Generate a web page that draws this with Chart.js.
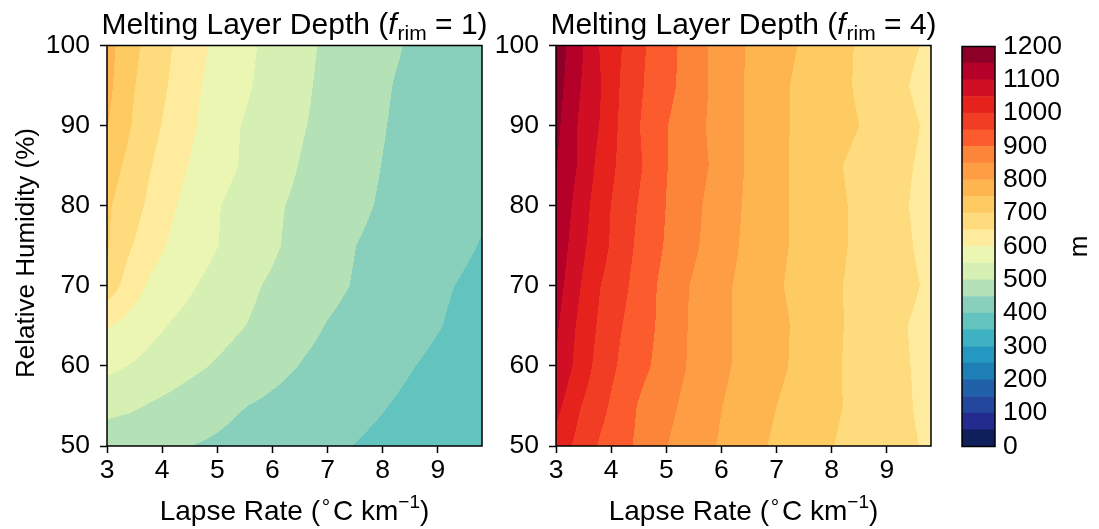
<!DOCTYPE html>
<html><head><meta charset="utf-8">
<script src="https://cdn.jsdelivr.net/npm/chart.js@4.4.1/dist/chart.umd.min.js"></script>
<style>
html,body{margin:0;padding:0;background:#fff;}
#wrap{position:relative;width:1099px;height:529px;overflow:hidden;}
canvas{position:absolute;left:0;top:0;}
</style></head><body>
<div id="wrap">
<canvas id="c1" width="1099" height="529"></canvas>
<canvas id="c2" width="1099" height="529"></canvas>
<canvas id="cb" width="1099" height="529"></canvas>
</div>
<script>
// ---------------- data ----------------
const lapseRates = [3.0,3.4,3.8,4.2,4.6,5.0,5.4,5.8,6.2,6.6,7.0,7.4,7.8,8.2,8.6,9.0,9.4,9.8];
const humidities = [50,55,60,65,70,75,80,85,90,95,100];
const xTickLabels = [3,4,5,6,7,8,9];
const yTickLabels = [50,60,70,80,90,100];
const levels = [0,50,100,150,200,250,300,350,400,450,500,550,600,650,700,750,800,850,900,950,1000,1050,1100,1150,1200];
const cbarTicks = [0,100,200,300,400,500,600,700,800,900,1000,1100,1200];
const levelColors = ['#0e1f5c','#232c8e','#23479c','#2161a9','#1e7fb6','#2598c1','#3eb2c3','#63c3bf',
  '#88d0bb','#b4e1b6','#d6efb3','#eaf6b2','#ffeb9e','#fedc7e','#fecb63','#feb54f',
  '#fd9e44','#fd853a','#fc5b2e','#f03d24','#e5221c','#d10f24','#b5002a','#8f0028'];

// Melting layer depth (m), f_rim = 1, one row per relative humidity
const rim1_rh50  = [470,465,462,456,449,443,436,429,422,415,408,401,394,388,382,376,370,364];
const rim1_rh55  = [515,508,496,486,475,464,453,445,437,429,422,414,406,398,390,383,376,369];
const rim1_rh60  = [562,549,535,521,508,495,482,470,458,446,437,428,419,409,400,392,384,376];
const rim1_rh65  = [603,584,563,545,531,518,504,490,475,461,448,438,429,420,411,402,393,385];
const rim1_rh70  = [680,628,591,571,551,534,517,500,487,475,462,450,439,428,417,406,398,390];
const rim1_rh75  = [705,656,619,591,571,551,533,515,498,483,468,453,443,434,425,416,407,398];
const rim1_rh80  = [707,675,638,604,578,553,535,518,501,488,476,463,451,440,430,421,413,405];
const rim1_rh85  = [724,688,651,619,591,569,549,530,511,494,481,468,455,443,433,424,416,408];
const rim1_rh90  = [752,704,665,632,602,576,551,534,517,501,487,473,459,446,436,426,417,408];
const rim1_rh95  = [765,710,675,642,607,583,562,542,523,505,490,477,464,449,438,428,418,408];
const rim1_rh100 = [770,719,682,649,616,589,567,546,527,508,493,480,468,455,443,432,422,412];

// Melting layer depth (m), f_rim = 4
const rim4_rh50  = [1030,987,944,914,884,851,828,806,783,761,742,725,709,694,681,669,656,643];
const rim4_rh55  = [1066,1006,965,923,888,863,837,812,790,770,750,733,717,700,684,668,653,636];
const rim4_rh60  = [1097,1034,981,940,909,878,847,823,799,780,760,741,725,699,683,667,651,637];
const rim4_rh65  = [1108,1043,991,950,917,883,849,824,799,780,765,740,725,701,683,667,649,637];
const rim4_rh70  = [1123,1057,1001,962,921,884,851,825,800,778,756,737,718,700,686,671,657,643];
const rim4_rh75  = [1138,1069,1019,972,930,895,865,835,807,783,761,741,722,704,686,670,653,637];
const rim4_rh80  = [1145,1082,1022,976,938,899,869,839,811,785,762,741,727,704,686,668,650,633];
const rim4_rh85  = [1152,1097,1034,986,947,902,875,848,815,787,762,740,720,700,684,668,653,638];
const rim4_rh90  = [1163,1098,1048,988,941,902,873,844,814,787,762,742,727,712,696,677,659,641];
const rim4_rh95  = [1173,1107,1053,993,949,915,881,847,815,787,762,742,725,708,689,670,650,630];
const rim4_rh100 = [1180,1117,1047,1000,953,918,883,846,814,789,769,749,729,709,691,675,658,642];

const gridRim1 = [rim1_rh50,rim1_rh55,rim1_rh60,rim1_rh65,rim1_rh70,rim1_rh75,rim1_rh80,rim1_rh85,rim1_rh90,rim1_rh95,rim1_rh100];
const gridRim4 = [rim4_rh50,rim4_rh55,rim4_rh60,rim4_rh65,rim4_rh70,rim4_rh75,rim4_rh80,rim4_rh85,rim4_rh90,rim4_rh95,rim4_rh100];

// ---------------- helpers ----------------
const FAM = "'Liberation Sans', Arial, Helvetica, sans-serif";
const F = (s, st) => (st ? st + ' ' : '') + s + 'px ' + FAM;
const TICK_PX = 26.5, LABEL_PX = 26, XLABEL_PX = 28, TITLE_PX = 30;
Chart.defaults.font.family = FAM;
Chart.defaults.color = '#000';

function hexToRgb(h){ return [parseInt(h.substr(1,2),16), parseInt(h.substr(3,2),16), parseInt(h.substr(5,2),16)]; }
const levelRgb = levelColors.map(hexToRgb);

function locate(arr, v){
  let i = 0;
  while (i < arr.length - 2 && v > arr[i+1]) i++;
  let t = (v - arr[i]) / (arr[i+1] - arr[i]);
  return [i, Math.max(0, Math.min(1, t))];
}
function sampleGrid(grid, xv, yv){
  const [i, tx] = locate(lapseRates, xv);
  const [j, ty] = locate(humidities, yv);
  const a = grid[j][i], b = grid[j][i+1], c = grid[j+1][i], d = grid[j+1][i+1];
  return a*(1-tx)*(1-ty) + b*tx*(1-ty) + c*(1-tx)*ty + d*tx*ty;
}
function levelIndex(v){
  let k = 0;
  while (k < levels.length - 2 && v >= levels[k+1]) k++;
  return k;
}

function drawRich(ctx, parts, x, y, align){
  let total = 0;
  parts.forEach(p => { ctx.font = p.font; p.w = ctx.measureText(p.text).width + (p.gap || 0); total += p.w; });
  let cx = align === 'center' ? x - total / 2 : x;
  ctx.textAlign = 'left';
  ctx.textBaseline = 'alphabetic';
  parts.forEach(p => { ctx.font = p.font; ctx.fillText(p.text, cx, y + (p.dy || 0)); cx += p.w; });
}

const contourPlugin = {
  id: 'contour',
  beforeDatasetsDraw(chart, args, opts){
    const {ctx, chartArea: a, scales: {x, y}} = chart;
    const grid = opts.grid;
    const L = Math.floor(a.left), T = Math.floor(a.top), R = Math.ceil(a.right), B = Math.ceil(a.bottom);
    const w = R - L, h = B - T;
    const off = document.createElement('canvas');
    off.width = w; off.height = h;
    const octx = off.getContext('2d');
    const img = octx.createImageData(w, h);
    for (let py = 0; py < h; py++){
      const yv = y.getValueForPixel(T + py + 0.5);
      for (let px = 0; px < w; px++){
        const xv = x.getValueForPixel(L + px + 0.5);
        const rgb = levelRgb[levelIndex(sampleGrid(grid, xv, yv))];
        const o = (py * w + px) * 4;
        img.data[o] = rgb[0]; img.data[o+1] = rgb[1]; img.data[o+2] = rgb[2]; img.data[o+3] = 255;
      }
    }
    octx.putImageData(img, 0, 0);
    ctx.save();
    ctx.beginPath();
    ctx.rect(a.left, a.top, a.right - a.left, a.bottom - a.top);
    ctx.clip();
    ctx.drawImage(off, L, T);
    ctx.restore();
  }
};

const decoPlugin = {
  id: 'deco',
  afterDraw(chart, args, opts){
    const {ctx, chartArea: a} = chart;
    ctx.save();
    ctx.strokeStyle = '#000';
    ctx.lineWidth = 1.5;
    ctx.strokeRect(a.left, a.top, a.right - a.left, a.bottom - a.top);
    ctx.fillStyle = '#000';
    const cx = (a.left + a.right) / 2;
    // title
    drawRich(ctx, [
      {text: 'Melting Layer Depth (', font: F(TITLE_PX)},
      {text: 'f', font: F(TITLE_PX, 'italic'), gap: 1},
      {text: 'rim', font: F(21), dy: 6},
      {text: ' = ' + opts.frim + ')', font: F(TITLE_PX)}
    ], cx, 34, 'center');
    // x axis title
    drawRich(ctx, [
      {text: 'Lapse Rate (', font: F(XLABEL_PX)},
      {text: '\u2218', font: F(19), dy: -12, gap: 1},
      {text: 'C km', font: F(XLABEL_PX)},
      {text: '\u22121', font: F(19), dy: -12},
      {text: ')', font: F(XLABEL_PX)}
    ], cx, 520, 'center');
    // y axis title
    if (opts.ylabel){
      ctx.save();
      ctx.translate(34, 253);
      ctx.rotate(-Math.PI / 2);
      ctx.font = F(LABEL_PX);
      ctx.textAlign = 'center';
      ctx.textBaseline = 'alphabetic';
      ctx.fillText(opts.ylabel, 0, 0);
      ctx.restore();
    }
    ctx.restore();
  }
};

const Y_W = 107, X_H = 83, TOP = 45.5;
function panelChart(id, grid, plotLeft, plotRight, frim, ylabel){
  return new Chart(document.getElementById(id), {
    type: 'scatter',
    data: {datasets: [{data: [], pointRadius: 0}]},
    options: {
      responsive: false, animation: false, events: [],
      layout: {padding: {left: plotLeft - Y_W, right: 1099 - plotRight, top: TOP, bottom: 0}},
      plugins: {legend: {display: false}, tooltip: {enabled: false}, title: {display: false},
        contour: {grid: grid}, deco: {frim: frim, ylabel: ylabel}},
      scales: {
        x: {type: 'linear', min: lapseRates[0], max: lapseRates[lapseRates.length-1],
          afterBuildTicks: s => { s.ticks = xTickLabels.map(v => ({value: v})); },
          afterFit: s => { s.height = X_H; },
          grid: {display: true, drawOnChartArea: false, drawTicks: true, tickLength: 7, tickWidth: 1.5, tickColor: '#000'},
          border: {display: false},
          ticks: {font: {size: TICK_PX}, color: '#000', padding: 2, maxRotation: 0, autoSkip: false,
            callback: v => String(v)}},
        y: {type: 'linear', min: humidities[0], max: humidities[humidities.length-1],
          afterBuildTicks: s => { s.ticks = yTickLabels.map(v => ({value: v})); },
          afterFit: s => { s.width = Y_W; },
          grid: {display: true, drawOnChartArea: false, drawTicks: true, tickLength: 7, tickWidth: 1.5, tickColor: '#000'},
          border: {display: false},
          ticks: {font: {size: TICK_PX}, color: '#000', padding: 10, autoSkip: false,
            callback: v => String(v)}}
      }
    },
    plugins: [contourPlugin, decoPlugin]
  });
}

panelChart('c1', gridRim1, 107, 482, 1, 'Relative Humidity (%)');
panelChart('c2', gridRim4, 556, 931, 4, null);

// colorbar
const cbDeco = {
  id: 'cbDeco',
  afterDraw(chart){
    const {ctx, chartArea: a} = chart;
    ctx.save();
    ctx.strokeStyle = '#000';
    ctx.lineWidth = 1.5;
    ctx.strokeRect(a.left, a.top, a.right - a.left, a.bottom - a.top);
    ctx.fillStyle = '#000';
    ctx.translate(1087, (a.top + a.bottom) / 2);
    ctx.rotate(-Math.PI / 2);
    ctx.font = F(LABEL_PX);
    ctx.textAlign = 'center';
    ctx.textBaseline = 'alphabetic';
    ctx.fillText('m', 0, 0);
    ctx.restore();
  }
};
const CB_L = 962, CB_R = 995, CB_W = 90;
new Chart(document.getElementById('cb'), {
  type: 'bar',
  data: {labels: [''], datasets: levelColors.map((c, i) => ({
    data: [levels[i+1] - levels[i]], backgroundColor: c, borderWidth: 0,
    barPercentage: 1, categoryPercentage: 1}))},
  options: {
    responsive: false, animation: false, events: [],
    layout: {padding: {left: CB_L, right: 1099 - CB_R - CB_W, top: 46.5, bottom: 529 - 446.5}},
    plugins: {legend: {display: false}, tooltip: {enabled: false}},
    scales: {
      x: {display: false, stacked: true},
      y: {position: 'right', stacked: true, min: levels[0], max: levels[levels.length-1],
        afterBuildTicks: s => { s.ticks = cbarTicks.map(v => ({value: v})); },
        afterFit: s => { s.width = CB_W; },
        grid: {display: false, drawTicks: false, tickLength: 0}, border: {display: false},
        ticks: {font: {size: TICK_PX}, color: '#000', padding: 8, autoSkip: false,
          callback: v => String(v)}}
    }
  },
  plugins: [cbDeco]
});
</script>
</body></html>
